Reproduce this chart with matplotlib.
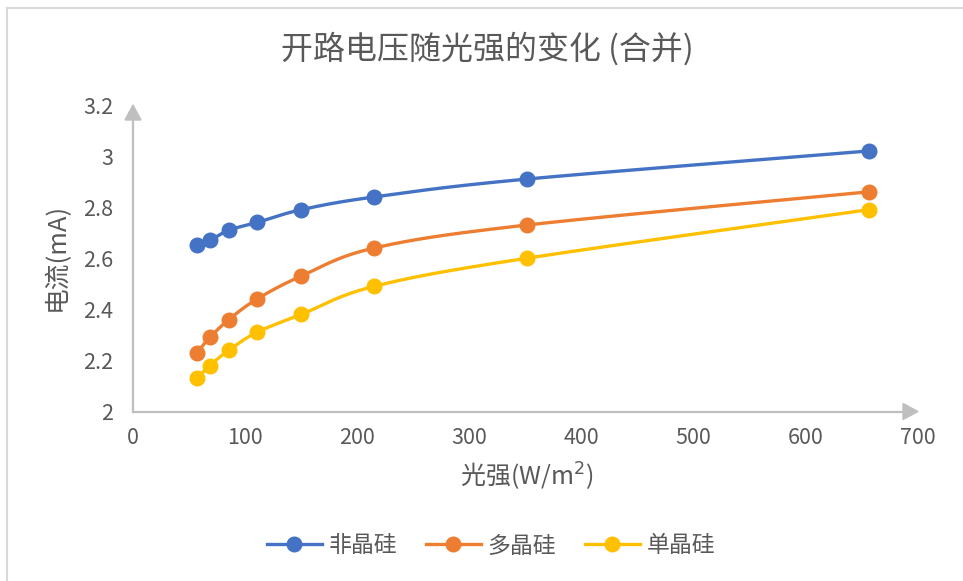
import numpy as np
import matplotlib
matplotlib.use("Agg")
import matplotlib.pyplot as plt
from matplotlib.lines import Line2D

plt.rcParams['font.family'] = ['Noto Sans CJK SC', 'DejaVu Sans']

# ---- data ----
light = [57, 68.5, 85.5, 110.5, 150, 215, 351, 656]
amorphous = [2.65, 2.67, 2.71, 2.74, 2.79, 2.84, 2.91, 3.02]
poly = [2.23, 2.29, 2.36, 2.44, 2.53, 2.64, 2.73, 2.86]
mono = [2.13, 2.18, 2.24, 2.31, 2.38, 2.49, 2.60, 2.79]
series_names = ['非晶硅', '多晶硅', '单晶硅']
colors = ['#4472C4', '#ED7D31', '#FFC000']
xticks = [0, 100, 200, 300, 400, 500, 600, 700]
yticks = [2, 2.2, 2.4, 2.6, 2.8, 3, 3.2]
ytick_labels = ['2', '2.2', '2.4', '2.6', '2.8', '3', '3.2']

TXT = '#595959'
W, H = 963, 581
fig = plt.figure(figsize=(W / 100, H / 100), dpi=100)

# chart border (top/left visible)
fig.add_artist(Line2D([7 / W, 7 / W], [0, 1 - 8 / H], transform=fig.transFigure, color='#D9D9D9', lw=1.5))
fig.add_artist(Line2D([7 / W, 1], [1 - 8 / H, 1 - 8 / H], transform=fig.transFigure, color='#D9D9D9', lw=1.5))

x0, x1 = 133, 918
y0, y1 = 411.5, 105
ax = fig.add_axes([x0 / W, 1 - y0 / H, (x1 - x0) / W, (y0 - y1) / H])
ax.set_xlim(0, 700)
ax.set_ylim(2, 3.2)
for s in ax.spines.values():
    s.set_visible(False)
ax.set_xticks(xticks)
ax.set_yticks(yticks)
ax.set_yticklabels(ytick_labels)
ax.tick_params(length=0, labelsize=15.5, colors=TXT, pad=11)
ax.tick_params(axis='y', pad=14)
ax.patch.set_alpha(0)

# axis arrows
axc = '#BFBFBF'
ax.plot([0, 700 - 700 * 15 / 785], [2, 2], color=axc, lw=1.6, clip_on=False, zorder=1)
ax.plot([0, 0], [2, 3.2 - 1.2 * 15 / 306.5], color=axc, lw=1.6, clip_on=False, zorder=1)
ax.add_patch(plt.Polygon([[700, 2], [700 - 700 * 15 / 785, 2 + 1.2 * 8 / 306.5], [700 - 700 * 15 / 785, 2 - 1.2 * 8 / 306.5]],
                         closed=True, color=axc, clip_on=False, zorder=1))
ax.add_patch(plt.Polygon([[0, 3.2], [-700 * 8 / 785, 3.2 - 1.2 * 15 / 306.5], [700 * 8 / 785, 3.2 - 1.2 * 15 / 306.5]],
                         closed=True, color=axc, clip_on=False, zorder=1))


def smooth(xs, ys, n=30):
    xs = np.asarray(xs, float)
    ys = np.asarray(ys, float)
    P = np.column_stack([xs, ys])
    out = []
    N = len(P)
    for i in range(N - 1):
        pm = P[i - 1] if i > 0 else P[i]
        pp = P[i + 2] if i + 2 < N else P[i + 1]
        c1 = P[i] + (P[i + 1] - pm) / 6
        c2 = P[i + 1] - (pp - P[i]) / 6
        t = np.linspace(0, 1, n)[:, None]
        seg = ((1 - t) ** 3) * P[i] + 3 * ((1 - t) ** 2) * t * c1 + 3 * (1 - t) * t ** 2 * c2 + t ** 3 * P[i + 1]
        out.append(seg if i == 0 else seg[1:])
    return np.vstack(out)


handles = []
for ys, name, c in zip([amorphous, poly, mono], series_names, colors):
    curve = smooth(light, ys)
    ax.plot(curve[:, 0], curve[:, 1], color=c, lw=2.4, solid_capstyle='round', zorder=3)
    ax.plot(light, ys, 'o', color=c, ms=10.5, zorder=4)
    handles.append(Line2D([], [], color=c, lw=2.4, marker='o', ms=10.5))

fig.text(487 / W, 1 - 49 / H, '开路电压随光强的变化 (合并)', ha='center', va='center', fontsize=23, color=TXT)
fig.text(527 / W, 1 - 477 / H, '光强(W/m$^2$)', ha='center', va='center', fontsize=18, color=TXT)
fig.text(57 / W, 1 - 257 / H, '电流(mA)', ha='center', va='center', fontsize=18.5, color=TXT, rotation=90)

leg = fig.legend(handles, series_names, loc='center', bbox_to_anchor=(491 / W, 1 - 546 / H), ncol=3,
                 frameon=False, fontsize=16.5, handlelength=2.4, columnspacing=1.25, handletextpad=0.3)
for t in leg.get_texts():
    t.set_color(TXT)

fig.savefig('out.png', dpi=100)
